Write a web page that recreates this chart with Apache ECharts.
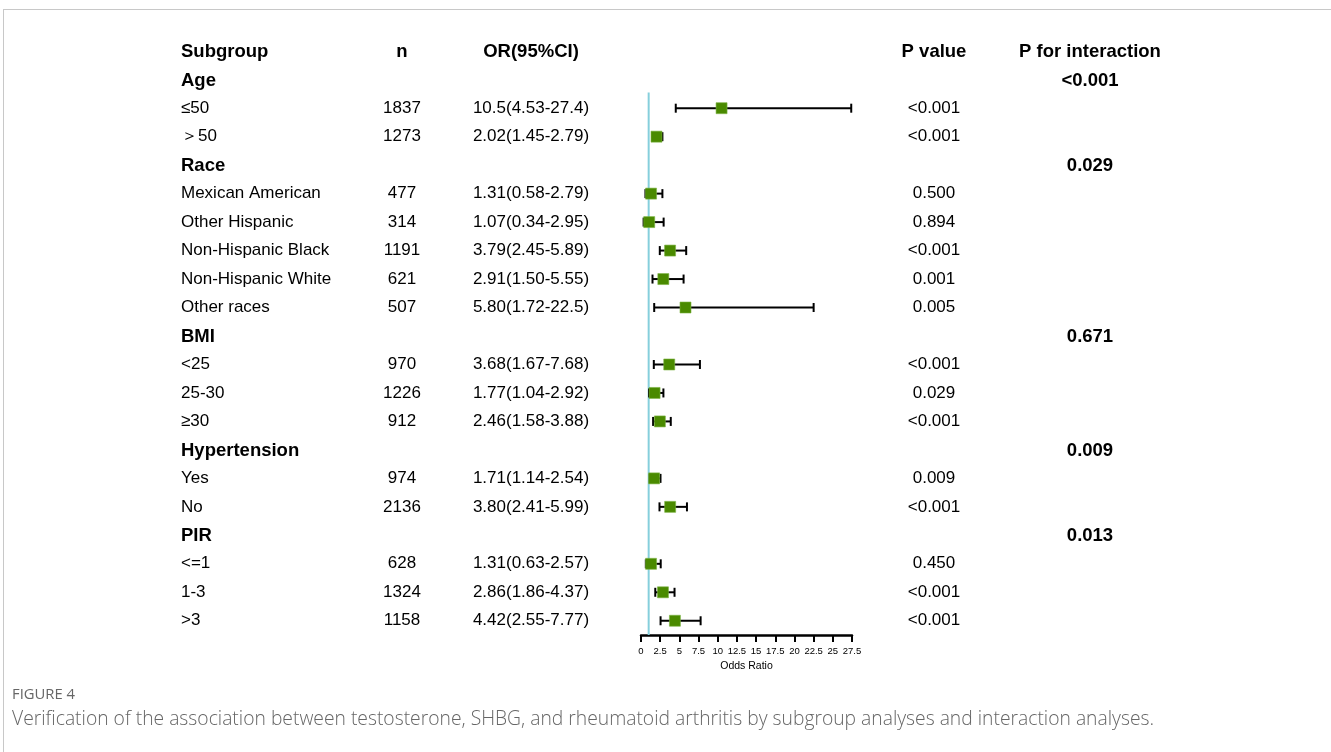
<!DOCTYPE html>
<html>
<head>
<meta charset="utf-8">
<script src="https://cdn.jsdelivr.net/npm/echarts@6/dist/echarts.min.js"></script>
<style>
  html, body { margin: 0; padding: 0; background: #fff; }
  .page { position: relative; width: 1331px; height: 752px; overflow: hidden; }
  .frame { position: absolute; left: 3px; top: 9px; right: -2px; bottom: -2px;
           border-top: 1px solid #c8c8c8; border-left: 1px solid #c8c8c8; }
  #main { position: absolute; left: 0; top: 0; width: 1331px; height: 752px; }
  .figno { position: absolute; left: 12px; top: 683px; font-family: "Open Sans", sans-serif;
           font-size: 14.8px; color: #666; }
  .caption { position: absolute; left: 12px; top: 704px; font-family: "Open Sans", sans-serif;
             font-size: 19.3px; font-weight: 300; color: #666; white-space: nowrap; }
</style>
</head>
<body>
<div class="page">
  <div class="frame"></div>
  <div id="main"></div>
  <div class="figno">FIGURE 4</div>
  <div class="caption">Verification of the association between testosterone, SHBG, and rheumatoid arthritis by subgroup analyses and interaction analyses.</div>
</div>
<script>
  // table rows (row 0 is the header)
  const labels = ['Subgroup', 'Age', '≤50', '＞50', 'Race', 'Mexican American', 'Other Hispanic',
    'Non-Hispanic Black', 'Non-Hispanic White', 'Other races', 'BMI', '<25', '25-30', '≥30',
    'Hypertension', 'Yes', 'No', 'PIR', '<=1', '1-3', '>3']
  const isBold = [1, 1, 0, 0, 1, 0, 0, 0, 0, 0, 1, 0, 0, 0, 1, 0, 0, 1, 0, 0, 0]
  const nCol = ['n', '', '1837', '1273', '', '477', '314', '1191', '621', '507', '', '970', '1226', '912',
    '', '974', '2136', '', '628', '1324', '1158']
  const orText = ['OR(95%CI)', '', '10.5(4.53-27.4)', '2.02(1.45-2.79)', '', '1.31(0.58-2.79)',
    '1.07(0.34-2.95)', '3.79(2.45-5.89)', '2.91(1.50-5.55)', '5.80(1.72-22.5)', '',
    '3.68(1.67-7.68)', '1.77(1.04-2.92)', '2.46(1.58-3.88)', '', '1.71(1.14-2.54)',
    '3.80(2.41-5.99)', '', '1.31(0.63-2.57)', '2.86(1.86-4.37)', '4.42(2.55-7.77)']
  const pValue = ['P value', '', '<0.001', '<0.001', '', '0.500', '0.894', '<0.001', '0.001', '0.005', '',
    '<0.001', '0.029', '<0.001', '', '0.009', '<0.001', '', '0.450', '<0.001', '<0.001']
  const pInter = ['P for interaction', '<0.001', '', '', '0.029', '', '', '', '', '', '0.671', '', '', '',
    '0.009', '', '', '0.013', '', '', '']

  // plotted estimates
  const orRows = [2, 3, 5, 6, 7, 8, 9, 11, 12, 13, 15, 16, 18, 19, 20]
  const orVal = [10.5, 2.02, 1.31, 1.07, 3.79, 2.91, 5.80, 3.68, 1.77, 2.46, 1.71, 3.80, 1.31, 2.86, 4.42]
  const orLow = [4.53, 1.45, 0.58, 0.34, 2.45, 1.50, 1.72, 1.67, 1.04, 1.58, 1.14, 2.41, 0.63, 1.86, 2.55]
  const orHigh = [27.4, 2.79, 2.79, 2.95, 5.89, 5.55, 22.5, 7.68, 2.92, 3.88, 2.54, 5.99, 2.57, 4.37, 7.77]

  const xTicks = [0, 2.5, 5, 7.5, 10, 12.5, 15, 17.5, 20, 22.5, 25, 27.5]
  const refValue = 1

  const FONT = '"Liberation Sans", Arial, sans-serif'
  // text columns: x pixel and alignment
  const columns = [
    { src: labels, x: 181, align: 'left' },
    { src: nCol, x: 402, align: 'center' },
    { src: orText, x: 531, align: 'center' },
    { src: pValue, x: 934, align: 'center' },
    { src: pInter, x: 1090, align: 'center', bold: true }
  ]

  const myChart = echarts.init(document.getElementById('main'))

  const tableData = labels.map((l, i) => [0, i])
  const ciData = orRows.map((r, i) => [orLow[i], orHigh[i], r])
  const pointData = orRows.map((r, i) => [orVal[i], r])

  const option = {
    animation: false,
    grid: { left: 641, width: 211, top: 37, height: 598 },
    xAxis: {
      type: 'value', min: 0, max: 27.5, interval: 2.5, position: 'bottom',
      splitLine: { show: false },
      axisLine: { show: true, onZero: false, lineStyle: { color: '#000', width: 2.5 } },
      axisTick: { show: true, length: 7, lineStyle: { color: '#000', width: 2 } },
      axisLabel: { fontFamily: FONT, fontSize: 9.5, color: '#000', margin: 11,
        formatter: v => (xTicks.indexOf(v) >= 0 ? String(v) : '') },
      name: 'Odds Ratio', nameLocation: 'middle', nameGap: 21,
      nameTextStyle: { fontFamily: FONT, fontSize: 10.5, color: '#000' }
    },
    yAxis: {
      type: 'value', min: -0.5, max: 20.5, inverse: true, show: false
    },
    series: [
      {
        type: 'line',
        data: [[refValue, 1.45], [refValue, 20.5]],
        symbol: 'none',
        lineStyle: { color: '#86cfdc', width: 2 },
        z: 1
      },
      {
        type: 'custom',
        data: ciData,
        z: 2,
        renderItem: (params, api) => {
          const a = api.coord([api.value(0), api.value(2)])
          const b = api.coord([api.value(1), api.value(2)])
          const cap = 4.5
          const st = { stroke: '#000', lineWidth: 2 }
          return {
            type: 'group',
            children: [
              { type: 'line', shape: { x1: a[0], y1: a[1], x2: b[0], y2: b[1] }, style: st },
              { type: 'line', shape: { x1: a[0], y1: a[1] - cap, x2: a[0], y2: a[1] + cap }, style: st },
              { type: 'line', shape: { x1: b[0], y1: b[1] - cap, x2: b[0], y2: b[1] + cap }, style: st }
            ]
          }
        }
      },
      {
        type: 'scatter',
        data: pointData,
        symbol: 'rect',
        symbolSize: 11,
        itemStyle: { color: '#4a8a00', borderColor: '#7cb342', borderWidth: 0.6, opacity: 1 },
        z: 3
      },
      {
        type: 'custom',
        data: tableData,
        clip: false,
        silent: true,
        renderItem: (params, api) => {
          const row = api.value(1)
          const y = api.coord([0, row])[1]
          const children = []
          columns.forEach((c, ci) => {
            const t = c.src[row]
            if (!t) return
            const bold = row === 0 || c.bold || (ci === 0 && isBold[row])
            children.push({
              type: 'text',
              x: c.x, y: bold ? y + 1 : y,
              style: {
                text: t, fill: '#000', font: (bold ? 'bold 18.5px ' : '17px ') + FONT,
                textAlign: c.align, textVerticalAlign: 'middle'
              }
            })
          })
          return { type: 'group', children }
        }
      }
    ]
  }
  myChart.setOption(option)
</script>
</body>
</html>
